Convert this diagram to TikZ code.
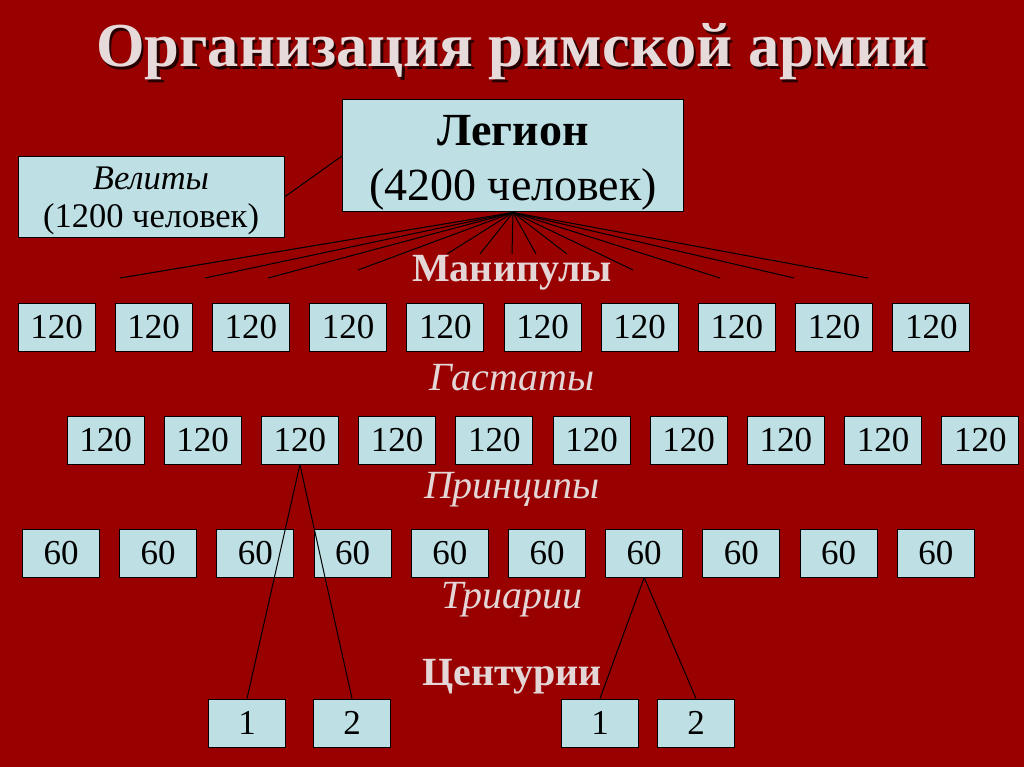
\documentclass[tikz,border=0pt]{standalone}
\usepackage{fontspec}
\setmainfont{Liberation Serif}
\usetikzlibrary{positioning}
\definecolor{bgred}{RGB}{153,0,0}
\definecolor{boxblue}{RGB}{190,224,228}
\definecolor{paletext}{RGB}{228,214,214}
\newcommand{\fsz}[2]{\fontsize{#1}{#2}\selectfont}

\begin{document}
\begin{tikzpicture}[x=1pt,y=-1pt,line width=1pt,
  box/.style={draw=black,fill=boxblue,inner sep=0pt,minimum width=77,minimum height=48,font=\fsz{35}{40}},
  rowlabel/.style={text=paletext,font=\fsz{40}{44}\itshape},
  headlabel/.style={text=paletext,font=\fsz{40}{44}\bfseries}]
\fill[bgred] (0,0) rectangle (1024,767);
\useasboundingbox (0,0) rectangle (1024,767);
\node[text=black!75!bgred,font=\fsz{62.5}{68}\bfseries] (titleshadow) at (514.5,54.5) {Организация римской армии};
\node[text=paletext!90!white,font=\fsz{62.5}{68}\bfseries] (title) at (512,52) {Организация римской армии};
\node[draw=black,fill=boxblue,inner sep=0pt,minimum width=341,minimum height=112,align=center,font=\fsz{46}{55}] (legion) at (513,156)
  {\rule{0pt}{44pt}\textbf{Легион}\\(4200 человек)};
\node[draw=black,fill=boxblue,inner sep=0pt,minimum width=266,minimum height=80,align=center,font=\fsz{34.5}{38}] (velites) at (151,197)
  {\rule{0pt}{31pt}\textit{Велиты}\\(1200 человек)};
\draw (velites.east) -- (legion.west);
\foreach \x/\y [count=\i] in {120/278,205/278,268/278,358/270,447/254,480/254,512/254,536/254,567/254,633/270,720/278,794/278,868/278}{
  \coordinate (m\i) at (\x,\y);
  \draw (legion.south) -- (m\i);
}
\node[headlabel] (manip) at (512,273) {Манипулы};
\foreach \i in {1,...,10}{
  \node[box] (hast\i) at ({56.5+97.2*(\i-1)},327) {120};
  \node[box] (princ\i) at ({105.5+97.2*(\i-1)},440) {120};
  \node[box] (triar\i) at ({61+97.2*(\i-1)},553) {60};
}
\node[rowlabel] (hastlabel) at (512,378) {Гастаты};
\node[rowlabel] (princlabel) at (512,490) {Принципы};
\node[rowlabel] (triarlabel) at (512,600) {Триарии};
\node[headlabel] (centlabel) at (512,677) {Центурии};
\node[box] (centA1) at (247,723) {1};
\node[box] (centA2) at (352,723) {2};
\node[box] (centB1) at (600,723) {1};
\node[box] (centB2) at (696,723) {2};
\draw (princ3.south) -- (centA1.north);
\draw (princ3.south) -- (centA2.north);
\draw (triar7.south) -- (centB1.north);
\draw (triar7.south) -- (centB2.north);
\end{tikzpicture}
\end{document}
